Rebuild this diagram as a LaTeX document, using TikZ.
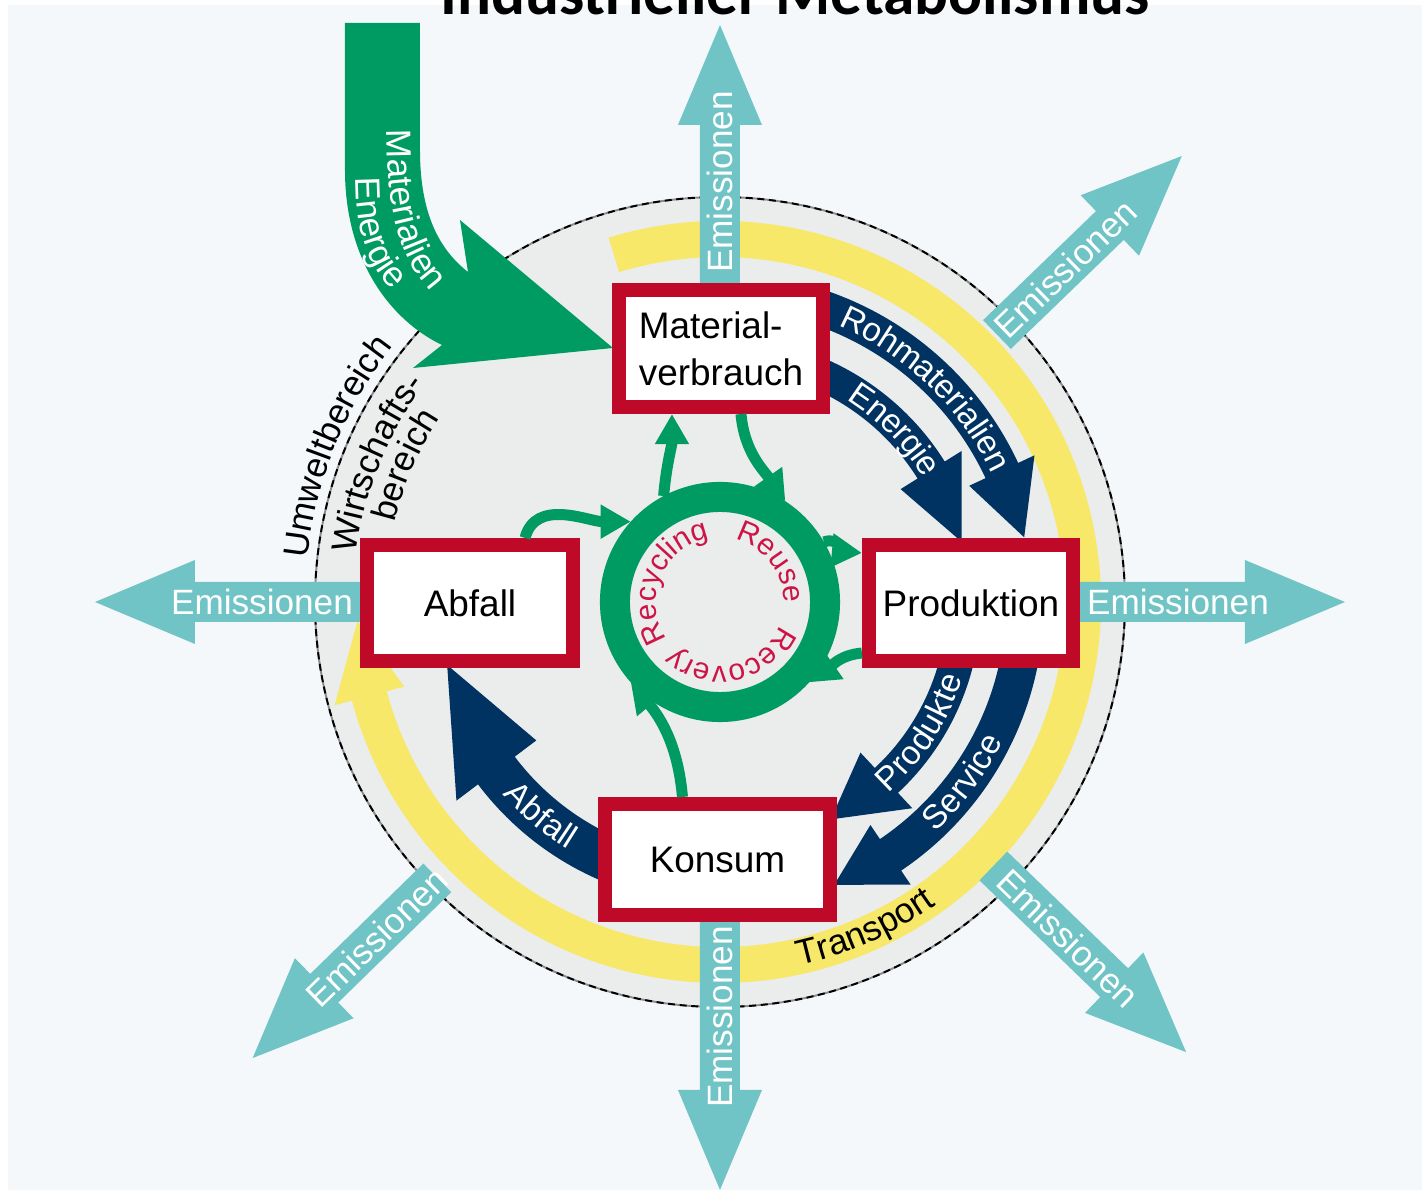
\documentclass[tikz,border=0pt]{standalone}
\usepackage{fontspec}
\setmainfont{Liberation Sans}
\newfontfamily\titelfont{Carlito}
\usepackage{tikz}
\usetikzlibrary{
	arrows.meta,        %箭头
	decorations.text,   %沿路径排文字
	calc                %计算
}
\definecolor{hintergrund}{RGB}{244,248,251}
\definecolor{kreisgrau}{RGB}{235,236,236}
\definecolor{tuerkis}{RGB}{113,196,198}
\definecolor{gruen}{RGB}{0,154,99}
\definecolor{marine}{RGB}{0,50,98}
\definecolor{rot}{RGB}{190,10,40}
\definecolor{gelb}{RGB}{247,232,106}
\definecolor{karmin}{RGB}{205,20,70}

\newcommand{\bandschrift}{\fontsize{9.5}{11}\selectfont}
\newcommand{\ringschrift}{\fontsize{8.5}{10}\selectfont}
\newcommand{\randschrift}{\fontsize{10}{12}\selectfont}

\tikzset{
	every picture/.style={
		x=0.01cm, y=0.01cm
		%1 个单位 = 1 像素
}}
\tikzset{
	kasten/.style={rectangle, draw=rot, line width=0.14cm, fill=white,
		inner sep=0pt, font=\fontsize{10.5}{13.4}\selectfont},
	emiss/.style={fill=tuerkis},
	emisstext/.style={text=white, font=\randschrift, inner sep=0pt},
	band/.style={fill=marine},
	kreispfeil/.style={draw=gruen, line width=0.11cm,
		-{Triangle[length=0.3cm,width=0.32cm]}}
}
%环形箭头: 半径, 宽, 起点角, 箭头根角, 箭头尖角, 箭头宽
\newcommand{\flusspfeil}[6]{%
	\fill[band] ({#3}:{#1+#2/2}) arc[start angle=#3, end angle=#4, radius=#1+#2/2]
	-- ({#4}:{#1+#6/2}) -- ({#5}:{#1}) -- ({#4}:{#1-#6/2}) -- ({#4}:{#1-#2/2})
	arc[start angle=#4, end angle=#3, radius=#1-#2/2] -- cycle;}
%沿圆弧的文字: 文字, 字体, 颜色, 半径, 起点角, 终点角, raise
\newcommand{\bogentext}[7]{%
	\path[decorate, decoration={text along path, text align=center,
		text color=#3, raise=#7, text={|#2|#1}}]
	({#5}:{#4}) arc[start angle=#5, end angle=#6, radius=#4];}

\begin{document}
\begin{tikzpicture}
\def\rK{405}%大圆半径

\useasboundingbox (-720,-592) rectangle (706,602);
%背景
\fill[white] (-720,-592) rectangle (706,602);
\fill[hintergrund] (-712,-588) rectangle (702,597);
\coordinate (O) at (0,0);

%标题
\node[anchor=base, font=\titelfont\bfseries\fontsize{18}{20}\selectfont] (titel) at (75,587) {Industrieller Metabolismus};

%大圆
\draw[fill=kreisgrau, draw=black!45, line width=0.55pt] (O) circle[radius=\rK];
\draw[draw=black, line width=0.55pt, dash pattern=on 2pt off 1.3pt] (O) circle[radius=\rK];

%黄色运输环
\fill[gelb] (107:381) arc[start angle=107, end angle=-165, radius=381]
	-- (-165:399) -- (-177:363) -- (-165:327) -- (-165:345)
	arc[start angle=-165, end angle=107, radius=345] -- cycle;

%蓝色物流箭头
\flusspfeil{311}{36}{72}{25}{12}{72}
\flusspfeil{249}{32}{68}{32}{14}{72}
\flusspfeil{244}{34}{-8}{-47}{-63}{76}
\flusspfeil{305}{38}{-6}{-56}{-68}{72}
\flusspfeil{280}{46}{250}{217}{193}{100}

%绿色输入箭头
\fill[gruen] (-375,579) -- (-300,579) -- (-300,452)
	.. controls (-300,387) and (-280,352) .. (-252,330)
	-- (-260,382) -- (-107,254) -- (-307,234) -- (-278,257)
	.. controls (-330,282) and (-375,342) .. (-375,432) -- cycle;
\path[decorate, decoration={text along path, text color=white,
	text={|\randschrift|Materialien}}]
	(-333,472) .. controls (-333,372) and (-315,317) .. (-250,280);
\path[decorate, decoration={text along path, text color=white,
	text={|\randschrift|Energie}}]
	(-364,424) .. controls (-364,362) and (-350,327) .. (-310,297);

%排放箭头
\foreach \w/\ra/\rb/\rt/\dreh [count=\i] in {90/300/577/420/90, -90/300/588/415/90,
	180/300/625/458/0, 0/300/625/458/0, 44/385/642/480/44,
	224.3/395/653/480/44.3, -44/380/648/484/-44}{
	\begin{scope}[rotate=\w]
		\fill[emiss] (\ra,-20) -- (\rb-100,-20) -- (\rb-100,-42) -- (\rb,0)
			-- (\rb-100,42) -- (\rb-100,20) -- (\ra,20) -- cycle;
		\node[emisstext, rotate=\dreh] (em\i) at (\rt,0) {Emissionen};
	\end{scope}
}

%回收环
\node[circle, draw=gruen, line width=0.3cm, minimum size=2.1cm, inner sep=0pt] (ring) at (O) {};

%四个方框
\node[kasten, minimum width=2.04cm, minimum height=1.17cm, align=left] (mv) at (1,253.5) {Material-\\verbrauch};
\node[kasten, minimum width=2.04cm, minimum height=1.16cm] (pr) at (251,-1) {Produktion};
\node[kasten, minimum width=2.06cm, minimum height=1.16cm] (ab) at (-250,-1) {Abfall};
\node[kasten, minimum width=2.25cm, minimum height=1.11cm] (ko) at (-2.5,-257.5) {Konsum};

%绿色小箭头
\draw[kreispfeil] (ring.118) to[out=85,in=-90] ([xshift=-.49cm]mv.south);
\draw[kreispfeil] ([xshift=.2cm]mv.south) to[out=-85,in=125] (ring.57);
\draw[kreispfeil] (ring.30) to[out=20,in=175] ([yshift=.5cm]pr.west);
\draw[kreispfeil] ([yshift=-.5cm]pr.west) to[out=185,in=35] (ring.-42);
\draw[kreispfeil] ([xshift=-.35cm]ko.north) to[out=95,in=-50] (ring.222);
\draw[kreispfeil] ([xshift=.55cm]ab.north) to[out=75,in=180] (ring.138);

%弧形文字
\bogentext{Rohmaterialien}{\bandschrift}{white}{311}{80}{12}{-3pt}
\bogentext{Energie}{\bandschrift}{white}{249}{75}{14}{-3pt}
\bogentext{Produkte}{\bandschrift}{white}{244}{-63}{-3}{-3pt}
\bogentext{Service}{\bandschrift}{white}{305}{-66}{-7}{-3pt}
\bogentext{Abfall}{\bandschrift}{white}{280}{200}{260}{-3pt}
\bogentext{Transport}{\randschrift}{black}{372}{-96}{-36}{0pt}
\bogentext{Umweltbereich}{\randschrift}{black}{415}{188}{128}{0pt}
\bogentext{Wirtschafts-}{\randschrift}{black}{367}{188}{128}{0pt}
\bogentext{bereich}{\randschrift}{black}{335}{186}{127}{0pt}
\bogentext{Recycling}{\ringschrift}{karmin}{64}{232}{82}{0pt}
\bogentext{Reuse}{\ringschrift}{karmin}{64}{98}{-22}{0pt}
\bogentext{Recovery}{\ringschrift}{karmin}{64}{-3}{-153}{0pt}

\end{tikzpicture}
\end{document}
